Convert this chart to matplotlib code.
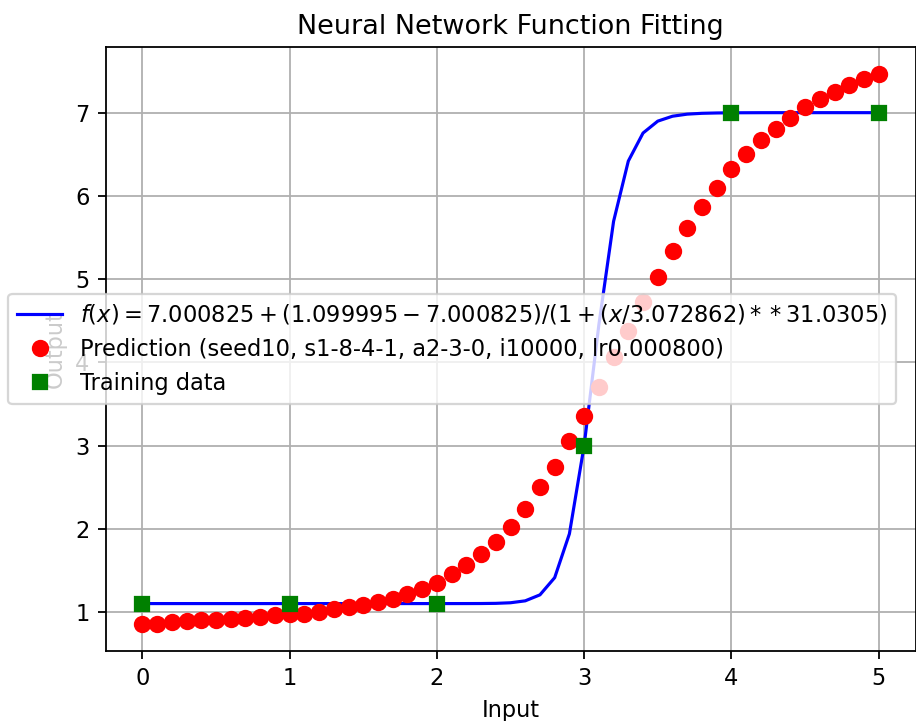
import matplotlib
matplotlib.use('Agg')
import matplotlib.pyplot as plt

# inputs (0 .. 5, step 0.1)
x_vals = [round(i * 0.1, 1) for i in range(51)]

# fitted curve values
fit_vals = [1.1000, 1.1000, 1.1000, 1.1000, 1.1000, 1.1000, 1.1000, 1.1000, 1.1000, 1.1000,
            1.1000, 1.1000, 1.1000, 1.1000, 1.1000, 1.1000, 1.1000, 1.1000, 1.1000, 1.1000,
            1.1000, 1.1000, 1.1002, 1.1007, 1.1027, 1.1098, 1.1329, 1.2049, 1.4118, 1.9387,
            3.0000, 4.4510, 5.6950, 6.4190, 6.7560, 6.8990, 6.9580, 6.9830, 6.9930, 6.9970,
            6.9992, 6.9998, 7.0004, 7.0006, 7.0007, 7.0008, 7.0008, 7.0008, 7.0008, 7.0008,
            7.0008]

# network predictions
pred_vals = [0.86, 0.86, 0.88, 0.89, 0.90, 0.90, 0.92, 0.93, 0.94, 0.96,
             0.97, 0.98, 1.00, 1.03, 1.06, 1.08, 1.12, 1.16, 1.22, 1.27,
             1.35, 1.46, 1.56, 1.70, 1.84, 2.02, 2.24, 2.50, 2.74, 3.05,
             3.36, 3.70, 4.06, 4.38, 4.72, 5.02, 5.34, 5.61, 5.87, 6.10,
             6.32, 6.50, 6.67, 6.81, 6.94, 7.07, 7.17, 7.25, 7.33, 7.40,
             7.46]

train_x = [0, 1, 2, 3, 4, 5]
train_y = [1.1, 1.1, 1.1, 3.0, 7.0, 7.0]

fit_label = r'$f(x) = 7.000825 + (1.099995 - 7.000825)/(1 + (x/3.072862)**31.0305)$'
pred_label = 'Prediction (seed10, s1-8-4-1, a2-3-0, i10000, lr0.000800)'

DPI = 162
fig = plt.figure(figsize=(916 / DPI, 721 / DPI), dpi=DPI)
ax = fig.add_axes([105.5 / 916, 1 - 651 / 721, 810 / 916, 604 / 721])

ax.plot(x_vals, fit_vals, color='blue', linewidth=1.4, label=fit_label)
ax.plot(x_vals, pred_vals, 'o', color='red', markersize=6.7, label=pred_label)
ax.plot(train_x, train_y, 's', color='green', markersize=6.2, label='Training data')

ax.set_title('Neural Network Function Fitting')
ax.set_xlabel('Input')
ax.set_ylabel('Output')
ax.grid(True)

ax.legend(loc='center left', bbox_to_anchor=(8 / 916, 1 - 349 / 721),
          bbox_transform=fig.transFigure, borderaxespad=0)

fig.savefig('out.png', dpi=DPI)
